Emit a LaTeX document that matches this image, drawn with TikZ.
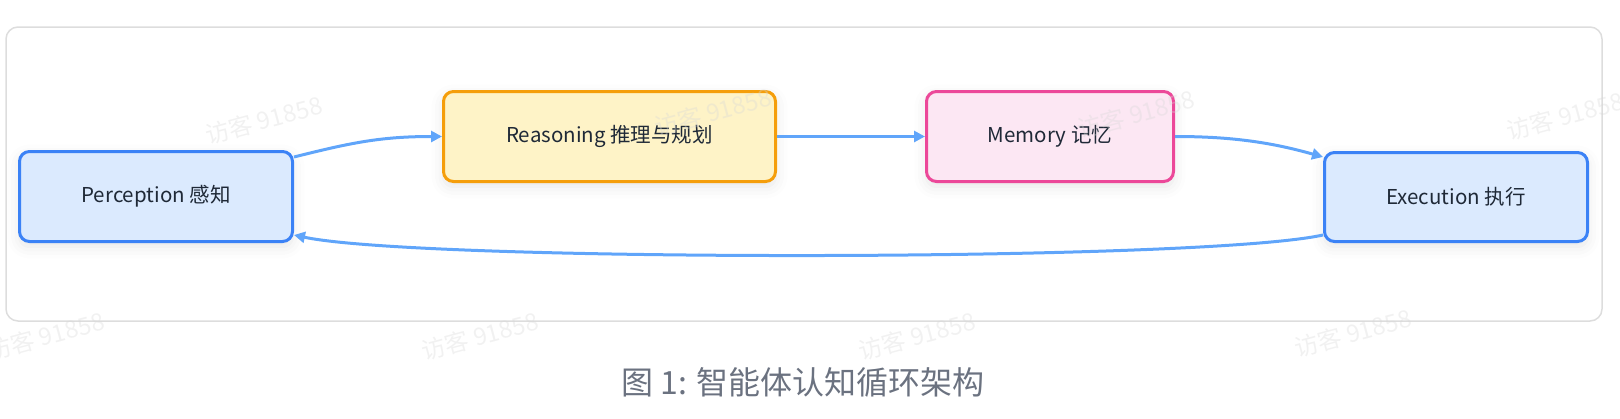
\documentclass[tikz,border=0pt]{standalone}
\usepackage{fontspec}
\setmainfont{Noto Sans CJK SC}
\usetikzlibrary{arrows.meta,shadows.blur}
\definecolor{blueline}{HTML}{3B82F6}
\definecolor{bluefill}{HTML}{DBEAFE}
\definecolor{orgline}{HTML}{F59E0B}
\definecolor{orgfill}{HTML}{FEF3C7}
\definecolor{pinkline}{HTML}{EC4899}
\definecolor{pinkfill}{HTML}{FCE7F3}
\definecolor{arrowc}{HTML}{60A5FA}
\definecolor{txt}{HTML}{1F2937}
\definecolor{capc}{HTML}{6B7280}
\definecolor{framec}{HTML}{DDDDDD}
\definecolor{wmark}{HTML}{D8D8D8}
\tikzset{
  box/.style={draw, rounded corners=10pt, line width=3pt, text=txt,
    font=\fontsize{20.5}{24}\selectfont, inner sep=0pt,
    blur shadow={shadow xshift=0pt, shadow yshift=-5pt, shadow blur radius=12pt, shadow opacity=10}},
  flow/.style={draw=arrowc, line width=3pt, -{Triangle[length=11pt,width=11pt]}},
  wm/.style={text=wmark, opacity=0.35, rotate=15, font=\fontsize{24}{28}\selectfont}
}
\begin{document}
\begin{tikzpicture}[x=1pt,y=-1pt]
\useasboundingbox (0,0) rectangle (1620,418);
\draw[framec, line width=1.5pt, rounded corners=12pt] (6,27) rectangle (1602,321);

\node[box, draw=blueline, fill=bluefill, minimum width=273pt, minimum height=90pt] (perc) at (156,196.5) {Perception 感知};
\node[box, draw=orgline, fill=orgfill, minimum width=332pt, minimum height=90pt] (reason) at (609.5,136.5) {Reasoning 推理与规划};
\node[box, draw=pinkline, fill=pinkfill, minimum width=247pt, minimum height=90pt] (mem) at (1050,136.5) {Memory 记忆};
\node[box, draw=blueline, fill=bluefill, minimum width=263pt, minimum height=89pt] (exec) at (1456,197) {Execution 执行};

\coordinate (p1) at ([yshift=-7pt]perc.north east);
\coordinate (e1) at ([yshift=-6pt]exec.north west);
\coordinate (e2) at ([yshift=8pt]exec.south west);
\coordinate (p2) at ([yshift=8pt]perc.south east);

\draw[flow] (p1) .. controls (350,143) and (380,136.5) .. (reason.west);
\draw[flow] (reason.east) -- (mem.west);
\draw[flow] (mem.east) .. controls (1230,136.5) and (1270,142) .. (e1);
\draw[flow] (e2) .. controls (1200,262) and (420,262) .. (p2);

\node[text=capc, font=\fontsize{32}{38}\selectfont] (cap) at (803,382) {图 1: 智能体认知循环架构};

\node[wm] (w1) at (264,120) {访客 91858};
\node[wm] (w2) at (713,112) {访客 91858};
\node[wm] (w3) at (1136,114) {访客 91858};
\node[wm] (w4) at (1565,116) {访客 91858};
\node[wm] (w5) at (46,336) {访客 91858};
\node[wm] (w6) at (480,336) {访客 91858};
\node[wm] (w7) at (917,336) {访客 91858};
\node[wm] (w8) at (1353,333) {访客 91858};
\end{tikzpicture}
\end{document}
